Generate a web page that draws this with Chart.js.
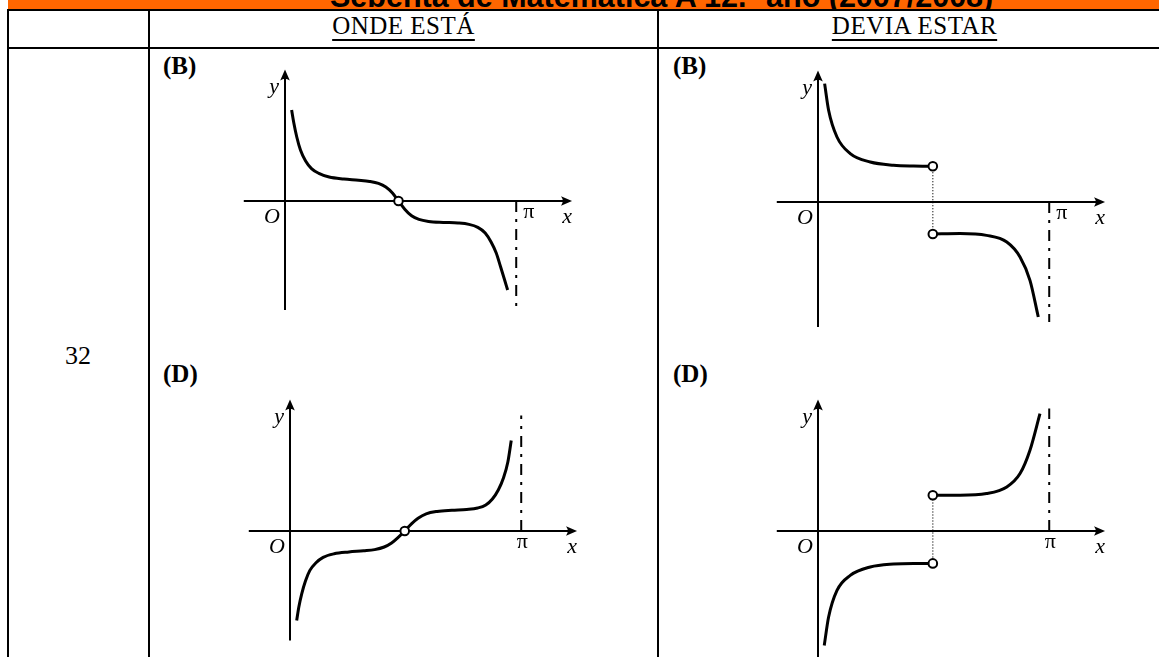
<!DOCTYPE html>
<html>
<head>
<meta charset="utf-8">
<script src="https://cdn.jsdelivr.net/npm/chart.js@4.4.1/dist/chart.umd.min.js"></script>
<style>
  body { margin: 0; width: 1159px; height: 657px; overflow: hidden; background: #fff; position: relative; }
  .rule { position: absolute; background: #000; }
  .txt { position: absolute; font-family: "Liberation Serif", "Times New Roman", serif; line-height: 1; white-space: nowrap; color: #000; }
  canvas { position: absolute; }
</style>
</head>
<body>
<div id="band" style="position:absolute;left:8px;top:0;width:1151px;height:9px;background:#ff6600;overflow:hidden;">
  <span id="bandText" style="position:absolute;left:322px;top:-18.8px;font:bold 30.5px/30.5px 'Liberation Sans', Arial, sans-serif;white-space:nowrap;color:#000;"></span>
</div>
<div class="rule" style="left:7px;top:9px;width:1152px;height:2px;"></div>
<div class="rule" style="left:7px;top:47px;width:1152px;height:2px;"></div>
<div class="rule" style="left:7px;top:9px;width:2px;height:648px;"></div>
<div class="rule" style="left:148px;top:9px;width:2px;height:648px;"></div>
<div class="rule" style="left:657px;top:9px;width:2px;height:648px;"></div>

<div id="col1" class="txt" style="left:150px;top:13px;width:507px;text-align:center;font-size:25px;letter-spacing:0.5px;text-decoration:underline;text-underline-offset:5px;text-decoration-thickness:1.5px;"></div>
<div id="col2" class="txt" style="left:659px;top:13px;width:511px;text-align:center;font-size:25px;letter-spacing:0.5px;text-decoration:underline;text-underline-offset:5px;text-decoration-thickness:1.5px;"></div>
<div id="qnum" class="txt" style="left:65px;top:343px;font-size:26px;"></div>
<div id="lab0" class="txt" style="left:163px;top:53px;font-size:25px;font-weight:bold;"></div>
<div id="lab1" class="txt" style="left:673px;top:53px;font-size:25px;font-weight:bold;"></div>
<div id="lab2" class="txt" style="left:163px;top:361px;font-size:25px;font-weight:bold;"></div>
<div id="lab3" class="txt" style="left:673px;top:361px;font-size:25px;font-weight:bold;"></div>

<canvas id="g0"></canvas>
<canvas id="g1"></canvas>
<canvas id="g2"></canvas>
<canvas id="g3"></canvas>

<script>
// texts
const bandTitle = "Sebenta de Matemática A 12.º ano (2007/2008)";
const columnTitles = ["ONDE ESTÁ", "DEVIA ESTAR"];
const questionNumber = "32";
const panelLabels = ["(B)", "(B)", "(D)", "(D)"];
const axisNames = ["x", "y", "O", "π"];

// ONDE ESTÁ (B)
const ondeB_x = [0.09, 0.12, 0.16, 0.21, 0.28, 0.36, 0.46, 0.6, 0.8, 1.0, 1.15, 1.27, 1.37, 1.46, 1.542, 1.63, 1.72, 1.82, 1.95, 2.15, 2.35, 2.5, 2.62, 2.72, 2.8, 2.87, 2.93, 2.98, 3.025];
const ondeB_y = [4.55, 3.9, 3.2, 2.55, 2.0, 1.62, 1.38, 1.2, 1.1, 1.04, 0.98, 0.88, 0.7, 0.4, 0, -0.42, -0.74, -0.92, -1.02, -1.07, -1.1, -1.17, -1.32, -1.6, -2.05, -2.6, -3.3, -3.9, -4.45];
const ondeB_holes = [[1.542, 0]];

// DEVIA ESTAR (B)
const deviaB_x1 = [0.09, 0.144, 0.258, 0.438, 0.71, 1.026, 1.3, 1.56];
const deviaB_y1 = [5.92, 4.59, 3.25, 2.42, 2.0, 1.84, 1.8, 1.79];
const deviaB_x2 = [1.56, 1.93, 2.29, 2.565, 2.745, 2.88, 2.993];
const deviaB_y2 = [-1.6, -1.58, -1.67, -2.0, -2.75, -3.92, -5.75];
const deviaB_holes = [[1.56, 1.79], [1.56, -1.6]];

// ONDE ESTÁ (D)
const ondeD_x = [0.091, 0.12, 0.16, 0.21, 0.27, 0.35, 0.45, 0.6, 0.8, 1.0, 1.15, 1.28, 1.38, 1.47, 1.559, 1.65, 1.74, 1.85, 2.0, 2.2, 2.4, 2.55, 2.66, 2.75, 2.83, 2.9, 2.96, 3.006];
const ondeD_y = [-4.47, -3.8, -3.13, -2.5, -1.97, -1.6, -1.32, -1.14, -1.05, -0.99, -0.93, -0.8, -0.6, -0.32, 0, 0.36, 0.64, 0.86, 0.98, 1.04, 1.08, 1.15, 1.3, 1.6, 2.05, 2.65, 3.45, 4.53];
const ondeD_holes = [[1.559, 0]];

// DEVIA ESTAR (D)
const deviaD_x1 = [0.085, 0.144, 0.258, 0.438, 0.71, 1.026, 1.3, 1.56];
const deviaD_y1 = [-5.72, -4.3, -2.97, -2.22, -1.8, -1.65, -1.62, -1.62];
const deviaD_x2 = [1.56, 1.93, 2.29, 2.565, 2.745, 2.88, 3.016];
const deviaD_y2 = [1.79, 1.79, 1.87, 2.2, 2.87, 4.04, 5.87];
const deviaD_holes = [[1.56, -1.62], [1.56, 1.79]];

// asymptote x = pi, from the x axis to this y
const asymptoteEnd = [-5.45, -6.0, 5.78, 6.12];
// lower end of the y axis
const yAxisBottom = [-5.45, -6.25, -5.47, -6.5];

document.getElementById("bandText").textContent = bandTitle;
document.getElementById("col1").textContent = columnTitles[0];
document.getElementById("col2").textContent = columnTitles[1];
document.getElementById("qnum").textContent = questionNumber;
panelLabels.forEach((t, i) => document.getElementById("lab" + i).textContent = t);

const pts = (xs, ys) => xs.map((x, i) => ({ x: x, y: ys[i] }));

const SX = 73.6, SY = 20, PAD = 30;
const X_MIN = -0.56, X_MAX = 3.9, Y_MAX = 6.58;

const graphs = [
  { ox: 285, oy: 201, piSide: "right", curves: [pts(ondeB_x, ondeB_y)], holes: ondeB_holes },
  { ox: 818, oy: 202, piSide: "right", curves: [pts(deviaB_x1, deviaB_y1), pts(deviaB_x2, deviaB_y2)], holes: deviaB_holes },
  { ox: 290, oy: 531, piSide: "center", curves: [pts(ondeD_x, ondeD_y)], holes: ondeD_holes },
  { ox: 818, oy: 531, piSide: "center", curves: [pts(deviaD_x1, deviaD_y1), pts(deviaD_x2, deviaD_y2)], holes: deviaD_holes }
];

function arrow(ctx, x, y, dir) {
  // dir: "up" or "right"
  ctx.save();
  ctx.translate(x, y);
  if (dir === "right") ctx.rotate(Math.PI / 2);
  ctx.beginPath();
  ctx.moveTo(0, 0);
  ctx.lineTo(-4.8, 11);
  ctx.quadraticCurveTo(0, 7.5, 4.8, 11);
  ctx.closePath();
  ctx.fill();
  ctx.restore();
}

const axesPlugin = {
  id: "mathAxes",
  beforeDatasetsDraw(chart, args, opts) {
    const { ctx } = chart;
    const xs = chart.scales.x, ys = chart.scales.y;
    const ox = xs.getPixelForValue(0), oy = ys.getPixelForValue(0);
    const left = xs.getPixelForValue(xs.min), right = xs.getPixelForValue(xs.max);
    const top = ys.getPixelForValue(ys.max), bottom = ys.getPixelForValue(ys.min);
    ctx.save();
    ctx.strokeStyle = "#000";
    ctx.fillStyle = "#000";
    ctx.lineWidth = 2;
    ctx.beginPath();
    ctx.moveTo(left, oy); ctx.lineTo(right - 8, oy);
    ctx.moveTo(ox, bottom); ctx.lineTo(ox, top + 8);
    ctx.stroke();
    arrow(ctx, right, oy, "right");
    arrow(ctx, ox, top, "up");

    ctx.font = 'italic 22px "Liberation Serif", serif';
    ctx.textBaseline = "alphabetic";
    ctx.textAlign = "center";
    ctx.fillText(axisNames[0], right - 5, oy + 22);
    ctx.textAlign = "right";
    ctx.fillText(axisNames[1], ox - 6, top + 24);
    ctx.fillText(axisNames[2], ox - 5, oy + 22);
    ctx.font = '22px "Liberation Serif", serif';
    const px = xs.getPixelForValue(Math.PI);
    if (opts.piSide === "right") {
      ctx.textAlign = "left";
      ctx.fillText(axisNames[3], px + 7, oy + 17);
    } else {
      ctx.textAlign = "center";
      ctx.fillText(axisNames[3], px + 1, oy + 17);
    }
    ctx.restore();
  }
};

graphs.forEach((g, i) => {
  const yMin = yAxisBottom[i];
  const plotLeft = g.ox + X_MIN * SX;
  const plotTop = g.oy - Y_MAX * SY;
  const plotW = (X_MAX - X_MIN) * SX;
  const plotH = (Y_MAX - yMin) * SY;
  const cl = Math.floor(plotLeft - PAD), ct = Math.floor(plotTop - PAD);
  const padL = plotLeft - cl, padT = plotTop - ct;
  const W = Math.ceil(plotLeft + plotW + PAD) - cl;
  const H = Math.ceil(plotTop + plotH + PAD) - ct;
  const padR = W - padL - plotW, padB = H - padT - plotH;

  const cv = document.getElementById("g" + i);
  cv.width = W; cv.height = H;
  cv.style.left = cl + "px"; cv.style.top = ct + "px";
  cv.style.width = W + "px"; cv.style.height = H + "px";

  const datasets = [];
  datasets.push({
    data: g.holes.map(h => ({ x: h[0], y: h[1] })),
    showLine: false, pointRadius: 4.3, pointBorderWidth: 2,
    pointBackgroundColor: "#fff", pointBorderColor: "#000", order: 0, clip: false
  });
  g.curves.forEach(c => datasets.push({
    data: c, borderColor: "#000", borderWidth: 3, pointRadius: 0,
    cubicInterpolationMode: "monotone", fill: false, order: 1, clip: false,
    borderCapStyle: "butt"
  }));
  datasets.push({
    data: [{ x: Math.PI, y: 0 }, { x: Math.PI, y: asymptoteEnd[i] }],
    borderColor: "#000", borderWidth: 2, pointRadius: 0, tension: 0,
    borderDash: [11, 7, 3, 7], order: 2, clip: false
  });
  if (g.holes.length > 1) {
    datasets.push({
      data: g.holes.map(h => ({ x: h[0], y: h[1] })),
      borderColor: "#000", borderWidth: 1.2, pointRadius: 0, tension: 0,
      borderDash: [1, 2], order: 3, clip: false
    });
  }

  new Chart(cv, {
    type: "line",
    data: { datasets: datasets },
    options: {
      responsive: false,
      animation: false,
      devicePixelRatio: 1,
      layout: { padding: { left: padL, right: padR, top: padT, bottom: padB } },
      scales: {
        x: { type: "linear", min: X_MIN, max: X_MAX, display: false },
        y: { type: "linear", min: yMin, max: Y_MAX, display: false }
      },
      plugins: {
        legend: { display: false },
        tooltip: { enabled: false },
        mathAxes: { piSide: g.piSide }
      },
      events: []
    },
    plugins: [axesPlugin]
  });
});
</script>
</body>
</html>
